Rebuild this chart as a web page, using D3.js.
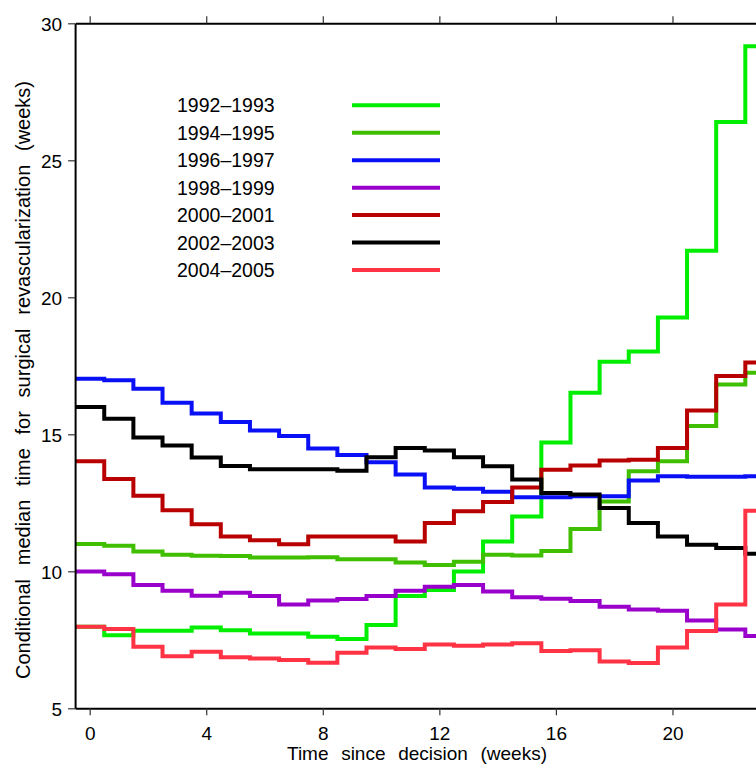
<!DOCTYPE html>
<html>
<head>
<meta charset="utf-8">
<script src="https://cdn.jsdelivr.net/npm/d3@7"></script>
<style>
  html, body { margin: 0; padding: 0; background: #fff; }
  svg { display: block; }
  text { font-family: "Liberation Sans", Arial, Helvetica, sans-serif; fill: #000; }
</style>
</head>
<body>
<svg id="chart" width="756" height="764"></svg>
<script>
// ---- data ----
const weeks = [0,1,2,3,4,5,6,7,8,9,10,11,12,13,14,15,16,17,18,19,20,21,22,23];
const seriesNames = ["1992\u20131993","1994\u20131995","1996\u20131997","1998\u20131999","2000\u20132001","2002\u20132003","2004\u20132005"];
const s1992 = [7.98,7.67,7.83,7.83,7.95,7.85,7.73,7.73,7.61,7.53,8.04,9.10,9.32,9.99,11.09,12.00,14.70,16.52,17.65,18.02,19.26,21.70,26.40,29.16];
const s1994 = [11.00,10.93,10.72,10.60,10.57,10.56,10.50,10.50,10.51,10.44,10.44,10.32,10.23,10.35,10.60,10.58,10.74,11.54,12.55,13.65,14.02,15.30,16.82,17.25];
const s1996 = [17.03,16.97,16.66,16.15,15.76,15.45,15.14,14.94,14.48,14.24,13.98,13.53,13.06,13.01,12.90,12.70,12.70,12.74,12.74,13.31,13.47,13.45,13.45,13.47];
const s1998 = [9.99,9.89,9.50,9.29,9.11,9.22,9.10,8.79,8.93,8.99,9.10,9.29,9.44,9.50,9.26,9.05,9.00,8.92,8.71,8.61,8.56,8.20,7.88,7.64];
const s2000 = [14.02,13.37,12.76,12.23,11.72,11.27,11.13,10.99,11.27,11.27,11.27,11.09,11.76,12.19,12.53,13.06,13.71,13.86,14.04,14.07,14.50,15.87,17.13,17.62];
const s2002 = [16.00,15.57,14.88,14.59,14.15,13.84,13.72,13.72,13.72,13.67,14.16,14.50,14.41,14.16,13.83,13.35,12.86,12.80,12.31,11.76,11.27,10.97,10.85,10.64];
const s2004 = [7.98,7.89,7.25,6.90,7.06,6.86,6.82,6.76,6.66,7.03,7.22,7.16,7.33,7.28,7.33,7.37,7.09,7.12,6.71,6.65,7.22,7.82,8.79,12.21];
const seriesValues = [s1992, s1994, s1996, s1998, s2000, s2002, s2004];
const seriesColors = ["#00EE00","#40BE00","#0A10F5","#9A00CC","#B80000","#000000","#FF3344"];
const xTicks = [0,4,8,12,16,20];
const yTicks = [5,10,15,20,25,30];
const xLabel = "Time since decision (weeks)";
const yLabel = "Conditional median time for surgical revascularization (weeks)";

(function () {
  // ---- layout ----
  const svg = d3.select("#chart");
  const pLeft = 75.1, pTop = 23.3, pBottom = 708.3, wk = 29.14;
  const x = d3.scaleLinear().domain([-0.5, 23.5]).range([pLeft, pLeft + 24 * wk]);
  const y = d3.scaleLinear().domain([5, 30]).range([pBottom, pTop]);
  const fontTick = 19;

  svg.append("defs").append("clipPath").attr("id", "plotclip")
    .append("rect").attr("x", x(-0.5)).attr("y", y(30) - 3)
    .attr("width", x(23.5) - x(-0.5)).attr("height", y(5) - y(30) + 3);

  // ---- lines ----
  const line = d3.line().x(d => x(d[0])).y(d => y(d[1])).curve(d3.curveStepAfter);
  const g = svg.append("g").attr("clip-path", "url(#plotclip)");
  seriesValues.forEach((vals, i) => {
    const pts = weeks.map((w, j) => [w - 0.5, vals[j]]);
    pts.push([weeks[weeks.length - 1] + 0.5, vals[vals.length - 1]]);
    g.append("path").datum(pts)
      .attr("d", line)
      .attr("fill", "none")
      .attr("stroke", seriesColors[i])
      .attr("stroke-width", 4)
      .attr("stroke-linejoin", "miter")
      .attr("stroke-linecap", "butt");
  });

  // ---- axes ----
  function styleAxis(sel) {
    sel.select(".domain").attr("stroke", "#000").attr("stroke-width", 2);
    sel.selectAll(".tick line").attr("stroke", "#333").attr("stroke-width", 1.2);
    sel.selectAll(".tick text").style("font-size", fontTick + "px")
       .style("font-family", "'Liberation Sans', Arial, sans-serif").attr("fill", "#000");
  }
  const xAxisB = svg.append("g").attr("transform", `translate(0,${pBottom})`)
    .call(d3.axisBottom(x).tickValues(xTicks).tickSize(7).tickSizeOuter(0).tickPadding(5).tickFormat(d3.format("d")));
  styleAxis(xAxisB);
  xAxisB.selectAll(".tick text").attr("dy", null).attr("y", 32);

  const xAxisT = svg.append("g").attr("transform", `translate(0,${pTop})`)
    .call(d3.axisTop(x).tickValues(xTicks).tickSize(7).tickSizeOuter(0).tickFormat(""));
  styleAxis(xAxisT);

  const yAxis = svg.append("g").attr("transform", `translate(${pLeft},0)`)
    .call(d3.axisLeft(y).tickValues(yTicks).tickSize(7).tickSizeOuter(0).tickPadding(6).tickFormat(d3.format("d")));
  styleAxis(yAxis);
  yAxis.selectAll(".tick text").attr("dy", "0.36em");

  // ---- axis titles ----
  function fitWords(t, target) {
    const n = (t.text().match(/ /g) || []).length;
    const w = t.node().getComputedTextLength();
    if (n > 0) t.style("word-spacing", Math.max(0, (target - w) / n) + "px");
  }
  const xt = svg.append("text").attr("x", 417).attr("y", 760)
    .attr("text-anchor", "middle").style("font-size", "19px").text(xLabel);
  fitWords(xt, 260);

  const yt = svg.append("text")
    .attr("transform", "translate(29.5,380) rotate(-90)")
    .attr("text-anchor", "middle").style("font-size", "20px").text(yLabel);
  fitWords(yt, 598);

  // ---- legend ----
  const leg = svg.append("g");
  seriesNames.forEach((name, i) => {
    const cy = 105.3 + i * 27.45;
    leg.append("text").attr("x", 177).attr("y", cy).attr("dy", "0.36em")
      .style("font-size", "19.5px").text(name);
    leg.append("line").attr("x1", 352).attr("x2", 440).attr("y1", cy).attr("y2", cy)
      .attr("stroke", seriesColors[i]).attr("stroke-width", 4);
  });
})();
</script>
</body>
</html>
